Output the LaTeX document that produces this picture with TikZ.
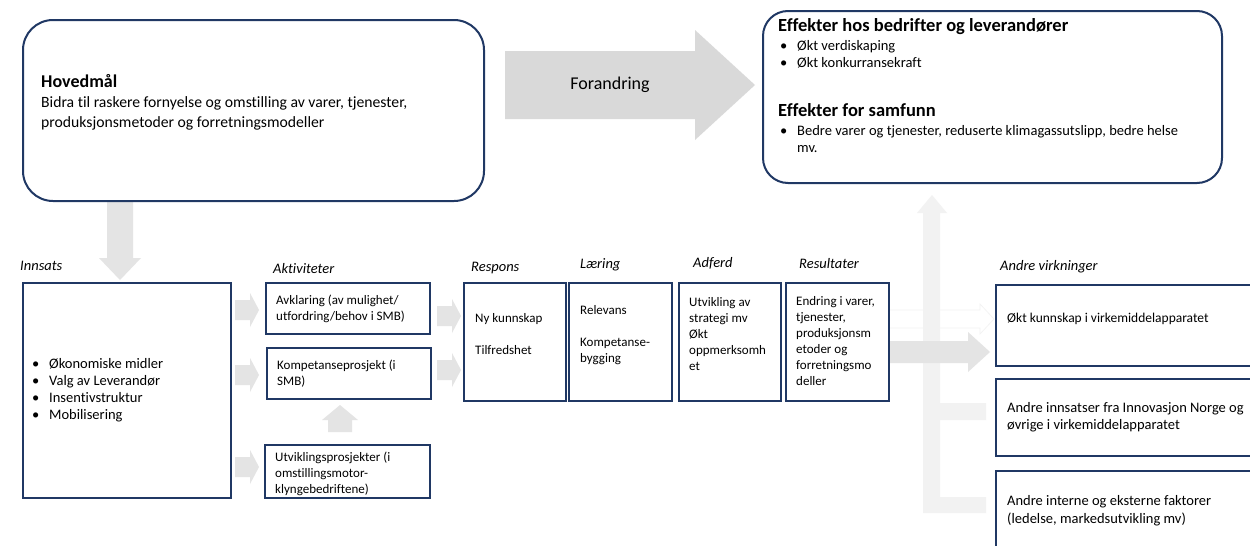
\documentclass[tikz,border=0pt]{standalone}
\usepackage{fontspec}
\setmainfont{Carlito}[Ligatures=NoCommon]
\definecolor{navy}{HTML}{203864}
\definecolor{agA}{HTML}{D9D9D9}
\definecolor{agB}{HTML}{E4E4E4}
\definecolor{agC}{HTML}{F2F2F2}
\newcommand\tl[1]{\parbox[t]{800pt}{\raggedright #1}}
\newcommand\rblock[7]{\fill[#1] (#2,{#3-#6}) -- (#4,{#3-#6}) -- (#4,{#3-#7}) -- (#5,#3) -- (#4,{#3+#7}) -- (#4,{#3+#6}) -- (#2,{#3+#6}) -- cycle;}
\newcommand\bx[6][]{\node[box,#1,minimum width={#5pt-#3pt},minimum height={#6pt-#4pt}] (#2) at (#3,#4) {};}
\tikzset{
  box/.style={draw=navy, line width=2pt, rectangle, inner sep=0pt, anchor=north west, fill=white},
  lbl/.style={font=\fontsize{14.5}{17}\selectfont\itshape, anchor=base west, inner sep=0pt},
  sm/.style={font=\fontsize{13}{16}\selectfont, anchor=base west, inner sep=0pt},
  md/.style={font=\fontsize{14.5}{17.5}\selectfont, anchor=base west, inner sep=0pt},
  hd/.style={font=\fontsize{18.5}{22}\selectfont\bfseries, anchor=base west, inner sep=0pt},
}
\begin{document}
\begin{tikzpicture}[x=1pt,y=-1pt]
\useasboundingbox (0,0) rectangle (1250,546);
\clip (0,0) rectangle (1250,546);
\fill[white] (0,0) rectangle (1250,546);

% grey arrows
\rblock{agA}{505}{85}{695}{755}{34}{55}
\fill[agB] (107,200) -- (133,200) -- (133,258) -- (141,258) -- (120,280) -- (99,258) -- (107,258) -- cycle;
\rblock{agB}{235}{310}{250}{259}{10}{17}
\rblock{agB}{235}{375}{250}{259}{10}{17}
\rblock{agB}{235}{467}{250}{259}{10}{17}
\rblock{agB}{437}{316}{452}{461}{10}{17}
\rblock{agB}{437}{370}{452}{461}{10}{17}
\fill[agB] (328,432) -- (352,432) -- (352,420) -- (358,420) -- (340,405) -- (322,420) -- (328,420) -- cycle;
\fill[agC] (932,195) -- (947,213) -- (940,213) -- (940,403) -- (986,403) -- (986,420) -- (940,420) -- (940,497) -- (986,497) -- (986,513) -- (923,513) -- (923,213) -- (917,213) -- cycle;
\rblock{agB}{888}{352}{968}{990}{11}{20}
\draw[black!5, line width=0.6pt] (888,310) -- (980,310) -- (980,304) -- (994,319) -- (980,334) -- (980,328) -- (888,328);

% rounded boxes
\bx[rounded corners=30pt]{hov}{22}{19}{483}{200}
\bx[rounded corners=25pt]{eff}{762}{10}{1221}{182}

% boxes
\bx{inn}{22}{282}{230}{497}
\bx{aa}{265}{282}{429}{333}
\bx{ab}{266}{347}{430}{398}
\bx{ac}{264}{444}{429}{497}
\bx{rr}{463}{282}{565}{400}
\bx{ll}{568}{282}{671}{400}
\bx{ad}{678}{282}{780}{400}
\bx{rs}{785}{282}{888}{400}
\bx{va}{995}{284}{1262}{365}
\bx{vb}{995}{378}{1262}{455}
\bx{vc}{995}{470}{1262}{560}

% texts
\node[hd, font=\fontsize{18}{22}\selectfont\bfseries] (tHov) at (41,87) {Hovedmål};
\node[font=\fontsize{15.7}{20}\selectfont, anchor=base west, inner sep=0pt] (tHovB) at (41,107) {\tl{Bidra til raskere fornyelse og omstilling av varer, tjenester,\\produksjonsmetoder og forretningsmodeller}};
\node[font=\fontsize{18}{20}\selectfont, inner sep=0pt] (tFor) at (610,85) {Forandring};

\node[hd] (tEff1) at (778,31) {Effekter hos bedrifter og leverandører};
\node[font=\fontsize{14.5}{17}\selectfont, anchor=base west, inner sep=0pt] (tEffL1) at (780,50) {\tl{\makebox[17pt][l]{•}Økt verdiskaping\\\makebox[17pt][l]{•}Økt konkurransekraft}};
\node[hd] (tEff2) at (778,116) {Effekter for samfunn};
\node[font=\fontsize{14.5}{17}\selectfont, anchor=base west, inner sep=0pt] (tEffL2) at (780,135) {\tl{\makebox[17pt][l]{•}Bedre varer og tjenester, reduserte klimagassutslipp, bedre helse\\\hspace*{17pt}mv.}};

\node[lbl] (lInn) at (20,270) {Innsats};
\node[lbl] (lAkt) at (273,273) {Aktiviteter};
\node[lbl] (lRes) at (471,271) {Respons};
\node[lbl] (lLae) at (580,268) {Læring};
\node[lbl] (lAdf) at (693,267) {Adferd};
\node[lbl] (lRst) at (799,268) {Resultater};
\node[lbl] (lAnd) at (1000,270) {Andre virkninger};

\node[font=\fontsize{14.5}{17.3}\selectfont, anchor=base west, inner sep=0pt] (tInn) at (32,368) {\tl{\makebox[17pt][l]{•}Økonomiske midler\\\makebox[17pt][l]{•}Valg av Leverandør\\\makebox[17pt][l]{•}Insentivstruktur\\\makebox[17pt][l]{•}Mobilisering}};

\node[sm] (tA) at (276,304) {\tl{Avklaring (av mulighet/\\utfordring/behov i SMB)}};
\node[sm] (tB) at (277,369) {\tl{Kompetanseprosjekt (i\\SMB)}};
\node[sm] (tC) at (275,461) {\tl{Utviklingsprosjekter (i\\omstillingsmotor-\\klyngebedriftene)}};
\node[sm] (tR) at (475,322) {\tl{Ny kunnskap\\[16pt]Tilfredshet}};
\node[sm] (tL) at (580,314) {\tl{Relevans\\[16pt]Kompetanse-\\bygging}};
\node[sm] (tAd) at (689,306) {\tl{Utvikling av\\strategi mv\\Økt\\oppmerksomh\\et}};
\node[sm] (tRs) at (796,305) {\tl{Endring i varer,\\tjenester,\\produksjonsm\\etoder og\\forretningsmo\\deller}};

\node[font=\fontsize{13.5}{17}\selectfont, anchor=base west, inner sep=0pt] (tVa) at (1007,322) {Økt kunnskap i virkemiddelapparatet};
\node[md] (tVb) at (1007,412) {\tl{Andre innsatser fra Innovasjon Norge og\\øvrige i virkemiddelapparatet}};
\node[font=\fontsize{14.5}{18}\selectfont, anchor=base west, inner sep=0pt] (tVc) at (1007,505) {\tl{Andre interne og eksterne faktorer\\(ledelse, markedsutvikling mv)}};
\end{tikzpicture}
\end{document}
